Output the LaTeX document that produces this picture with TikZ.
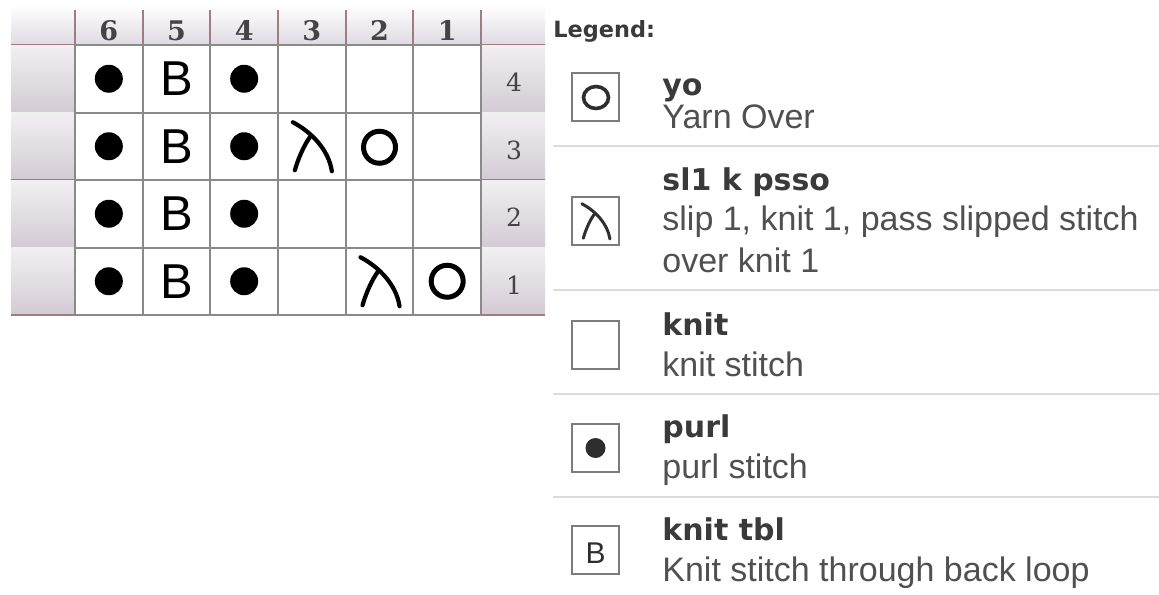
\documentclass[tikz,border=0pt]{standalone}
\usepackage{fontspec}
\setmainfont{Liberation Sans}
\newfontfamily\headfont{DejaVu Sans}
\newfontfamily\numfont{DejaVu Serif}

\definecolor{gridgray}{HTML}{8A8A8A}
\definecolor{mauve}{HTML}{A07C85}
\definecolor{hdrlav}{HTML}{DFDAE2}
\definecolor{striptop}{HTML}{F2EFF3}
\definecolor{stripbot}{HTML}{D3CBD4}
\definecolor{numgray}{HTML}{444444}
\definecolor{boxgray}{HTML}{7C7C7C}
\definecolor{symgray}{HTML}{2E2E2E}
\definecolor{titlegray}{HTML}{3A3A3A}
\definecolor{textgray}{HTML}{505050}
\definecolor{sepline}{HTML}{E2D8D8}

\begin{document}
\begin{tikzpicture}[
    x=0.5pt, y=-0.5pt,
    cell/.style={draw=gridgray, line width=1pt, minimum width=33.83pt, minimum height=33.75pt, inner sep=0pt, outer sep=0pt},
    stripcell/.style={top color=striptop, middle color=white, bottom color=stripbot, minimum width=32pt, minimum height=33.75pt, inner sep=0pt, outer sep=0pt},
    colnum/.style={text=numgray, font=\numfont\bfseries\fontsize{13.5}{14}\selectfont, anchor=base, inner sep=0pt},
    rownum/.style={text=numgray, font=\numfont\fontsize{12.5}{13}\selectfont, anchor=base, inner sep=0pt},
    purl/.style={circle, fill=black, minimum size=14pt, inner sep=0pt},
    tbl/.style={font=\fontsize{24.5}{25}\selectfont, inner sep=0pt},
    lambda/.style={line width=2.1pt, line cap=round},
    decrease/.pic={
      \draw[lambda] (-19,-24) .. controls (0,-14) and (17,4) .. (20,25);
      \draw[lambda] (-2,-9) .. controls (-7,-2) and (-13,10) .. (-17,24);
    },
    legbox/.style={draw=boxgray, line width=1pt, minimum width=23.5pt, minimum height=24pt, inner sep=0pt},
    legtitle/.style={anchor=base west, inner sep=0pt, text=titlegray, font=\headfont\bfseries\fontsize{15}{18}\selectfont},
    legtext/.style={anchor=base west, inner sep=0pt, text=textgray, font=\fontsize{17}{20}\selectfont},
]
\useasboundingbox (0,0) rectangle (1159,594);

% Header band with stitch numbers
\node[top color=white, bottom color=hdrlav, minimum width=267pt, minimum height=20pt, inner sep=0pt] (head) at (278,25) {};
\draw[mauve, line width=1pt] (head.south west) -- (head.south east);
\foreach \k in {0,...,6}
  \draw[mauve, line width=1pt] (75+67.67*\k,10) -- (75+67.67*\k,45);
\foreach \i in {0,...,5} {
  \pgfmathtruncatemacro{\st}{6-\i}
  \node[colnum] (col-\st) at (75+67.67*\i+33.83,40) {\st};
}

% Side strips, row numbers on the right
\foreach \j in {0,...,3} {
  \pgfmathtruncatemacro{\rw}{4-\j}
  \node[stripcell] (left-\rw) at (43,45+67.5*\j+33.75) {};
  \node[stripcell] (right-\rw) at (513,45+67.5*\j+33.75) {};
  \draw[mauve, line width=1pt] (left-\rw.south west) -- (left-\rw.south east);
  \draw[mauve, line width=1pt] (right-\rw.south west) -- (right-\rw.south east);
  \node[rownum] (row-\rw) at (514,45+67.5*\j+46.75) {\rw};
}

% Chart cells
\foreach \i in {0,...,5} {
  \foreach \j in {0,...,3} {
    \pgfmathtruncatemacro{\st}{6-\i}
    \pgfmathtruncatemacro{\rw}{4-\j}
    \node[cell] (c\st-\rw) at (75+67.67*\i+33.83,45+67.5*\j+33.75) {};
  }
}

% Stitch symbols
\foreach \rw in {1,...,4} {
  \node[purl] (p6-\rw) at (c6-\rw) {};
  \node[tbl] (b5-\rw) at (c5-\rw) {B};
  \node[purl] (p4-\rw) at (c4-\rw) {};
}
\pic at (c3-3) {decrease};
\pic at (c2-1) {decrease};
\draw[line width=2.5pt] (c2-3) ++(0,1) circle[radius=16];
\draw[line width=2.5pt] (c1-1) circle[radius=16];

% Legend
\node[anchor=base west, inner sep=0pt, text=titlegray, font=\headfont\bfseries\fontsize{11.2}{13}\selectfont] (legend) at (553,37) {Legend:};

\node[legbox] (box-yo) at (595.5,97) {};
\draw[symgray, line width=1.8pt] (box-yo) ++(0.5,0.5) circle[x radius=12.5, y radius=11];
\node[legtitle] (title-yo) at (662,95) {yo};
\node[legtext] (text-yo) at (662,128) {Yarn Over};
\draw[sepline, line width=1pt] (553,146) -- (1159,146);

\node[legbox] (box-dec) at (595.5,221) {};
\pic[scale=0.72, symgray, lambda/.style={line width=1.5pt, line cap=round}] at (box-dec) {decrease};
\node[legtitle] (title-dec) at (662,190) {sl1 k psso};
\node[legtext] (text-dec) at (662,230) {slip 1, knit 1, pass slipped stitch};
\node[legtext] (text-dec2) at (662,272) {over knit 1};
\draw[sepline, line width=1pt] (553,290) -- (1159,290);

\node[legbox] (box-knit) at (595.5,345) {};
\node[legtitle] (title-knit) at (662,335) {knit};
\node[legtext] (text-knit) at (662,376) {knit stitch};
\draw[sepline, line width=1pt] (553,394) -- (1159,394);

\node[legbox] (box-purl) at (595.5,448) {};
\node[purl, fill=symgray, minimum size=10pt] (dot-purl) at (box-purl) {};
\node[legtitle] (title-purl) at (662,437) {purl};
\node[legtext] (text-purl) at (662,478) {purl stitch};
\draw[sepline, line width=1pt] (553,497) -- (1159,497);

\node[legbox] (box-tbl) at (595.5,550) {};
\node[text=symgray, font=\fontsize{15}{15}\selectfont, inner sep=0pt] (sym-tbl) at ([yshift=-1.5pt]box-tbl) {B};
\node[legtitle] (title-tbl) at (662,540) {knit tbl};
\node[legtext] (text-tbl) at (662,581) {Knit stitch through back loop};

\end{tikzpicture}
\end{document}
